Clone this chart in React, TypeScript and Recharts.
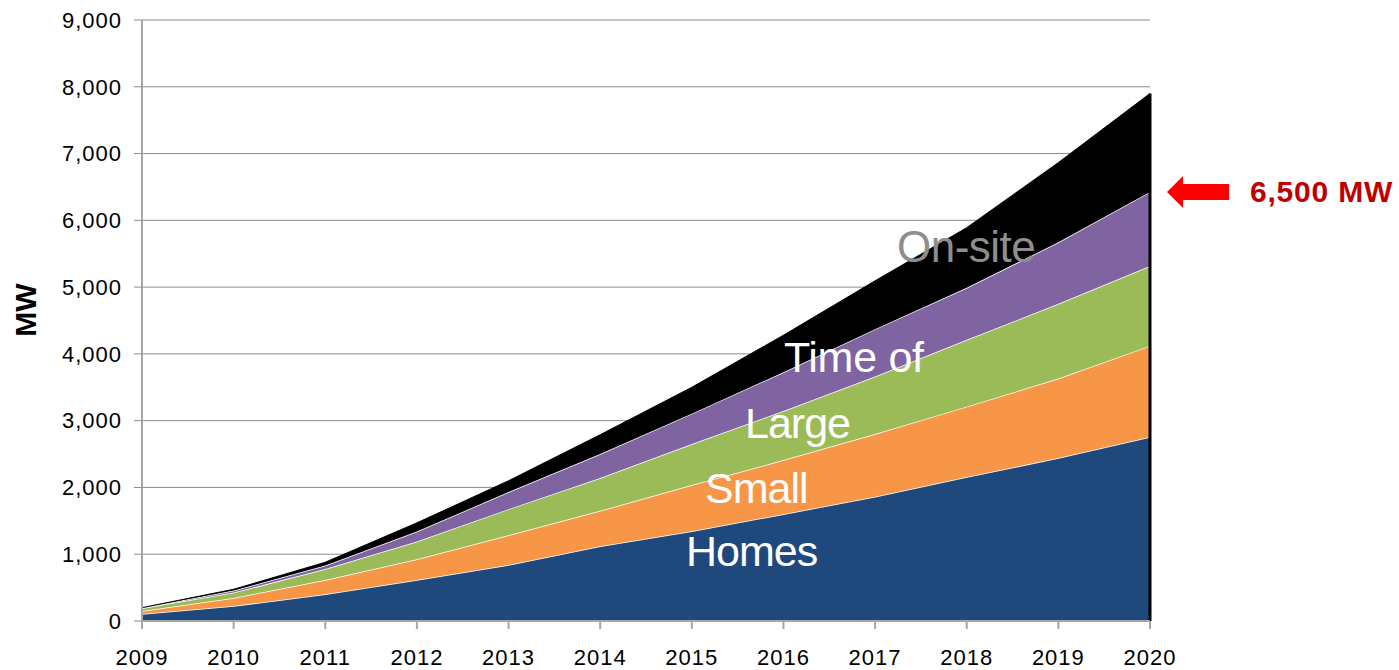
import React from 'react';
import { AreaChart, Area, XAxis, YAxis, CartesianGrid, ReferenceLine } from 'recharts';

// MW installed, read off the stacked bands (each series is its own slice, not cumulative)
const years = [2009, 2010, 2011, 2012, 2013, 2014, 2015, 2016, 2017, 2018, 2019, 2020];
const homes = [105, 225, 400, 615, 840, 1120, 1345, 1600, 1860, 2155, 2440, 2755];
const small = [45, 120, 215, 310, 445, 530, 690, 810, 940, 1055, 1190, 1365];
const large = [40, 80, 165, 265, 390, 490, 615, 735, 860, 1000, 1120, 1195];
const timeOfUse = [5, 30, 50, 150, 255, 360, 455, 580, 710, 780, 920, 1110];
const onSite = [5, 20, 50, 130, 170, 290, 395, 555, 725, 900, 1195, 1475];
const yTicks = [0, 1000, 2000, 3000, 4000, 5000, 6000, 7000, 8000, 9000];

const data = years.map((year, i) => ({
  year,
  homes: homes[i],
  small: small[i],
  large: large[i],
  timeOfUse: timeOfUse[i],
  onSite: onSite[i],
}));

const last = years.length - 1;
const total2020 = homes[last] + small[last] + large[last] + timeOfUse[last] + onSite[last];

const FONT = '"Liberation Sans", Arial, sans-serif';
const tickStyle = { fontSize: 22, fill: '#000', fontFamily: FONT, letterSpacing: 1 };
const bandLabel = { fontSize: 43, fontFamily: FONT, letterSpacing: -1 };

export default function App() {
  return (
    <div style={{ position: 'absolute', left: 0, top: 0, width: 1399, height: 670, background: '#fff' }}>
      <AreaChart width={1399} height={670} data={data} margin={{ top: 20, right: 249, bottom: 9, left: 62 }}>
        <CartesianGrid horizontal vertical={false} stroke="#8c8c8c" strokeWidth={1} />
        <XAxis
          dataKey="year"
          type="number"
          domain={[2009, 2020]}
          ticks={years}
          height={40}
          tick={tickStyle}
          tickSize={8}
          tickMargin={20}
          axisLine={{ stroke: '#a6a6a6', strokeWidth: 2 }}
          tickLine={{ stroke: '#a6a6a6', strokeWidth: 2 }}
          allowDecimals={false}
        />
        <YAxis
          domain={[0, 9000]}
          ticks={yTicks}
          width={80}
          tick={tickStyle}
          tickSize={8}
          tickMargin={12}
          tickFormatter={(v: number) => v.toLocaleString('en-US')}
          axisLine={{ stroke: '#a6a6a6', strokeWidth: 2 }}
          tickLine={{ stroke: '#8c8c8c', strokeWidth: 1 }}
        />
        <Area type="linear" dataKey="homes" stackId="1" fill="#1f497d" fillOpacity={1} stroke="#fff" strokeWidth={1.5} isAnimationActive={false} />
        <Area type="linear" dataKey="small" stackId="1" fill="#f79646" fillOpacity={1} stroke="#fff" strokeWidth={1.5} isAnimationActive={false} />
        <Area type="linear" dataKey="large" stackId="1" fill="#9bbb59" fillOpacity={1} stroke="#fff" strokeWidth={1.5} isAnimationActive={false} />
        <Area type="linear" dataKey="timeOfUse" stackId="1" fill="#8064a2" fillOpacity={1} stroke="#fff" strokeWidth={1.5} isAnimationActive={false} />
        <Area type="linear" dataKey="onSite" stackId="1" fill="#000" fillOpacity={1} stroke="#000" strokeWidth={1} isAnimationActive={false} />
        <ReferenceLine
          segment={[{ x: 2020, y: 0 }, { x: 2020, y: total2020 }]}
          stroke="#000"
          strokeWidth={3}
          ifOverflow="visible"
        />
      </AreaChart>

      {/* annotations on top of the chart */}
      <svg width={1399} height={670} style={{ position: 'absolute', left: 0, top: 0, pointerEvents: 'none' }}>
        <text transform="translate(36,310) rotate(-90)" textAnchor="middle" fontFamily={FONT} fontWeight="bold" fontSize={30} fill="#000">
          MW
        </text>
        <text x={897} y={262} fill="#8e8e8e" fontSize={44} fontFamily={FONT} letterSpacing={-0.5}>On-site</text>
        <text x={784} y={372} fill="#fff" {...bandLabel} letterSpacing={-0.3}>Time of</text>
        <text x={745} y={438} fill="#fff" {...bandLabel}>Large</text>
        <text x={705} y={503} fill="#fff" {...bandLabel}>Small</text>
        <text x={686} y={566} fill="#fff" {...bandLabel}>Homes</text>
        <polygon points="1167,192 1183,176 1183,184 1229,184 1229,200 1183,200 1183,208" fill="#ff0000" />
        <text x={1250} y={202} fontFamily={FONT} fontWeight="bold" fontSize={30} letterSpacing={0.8} fill="#c00000">
          6,500 MW
        </text>
      </svg>
    </div>
  );
}
